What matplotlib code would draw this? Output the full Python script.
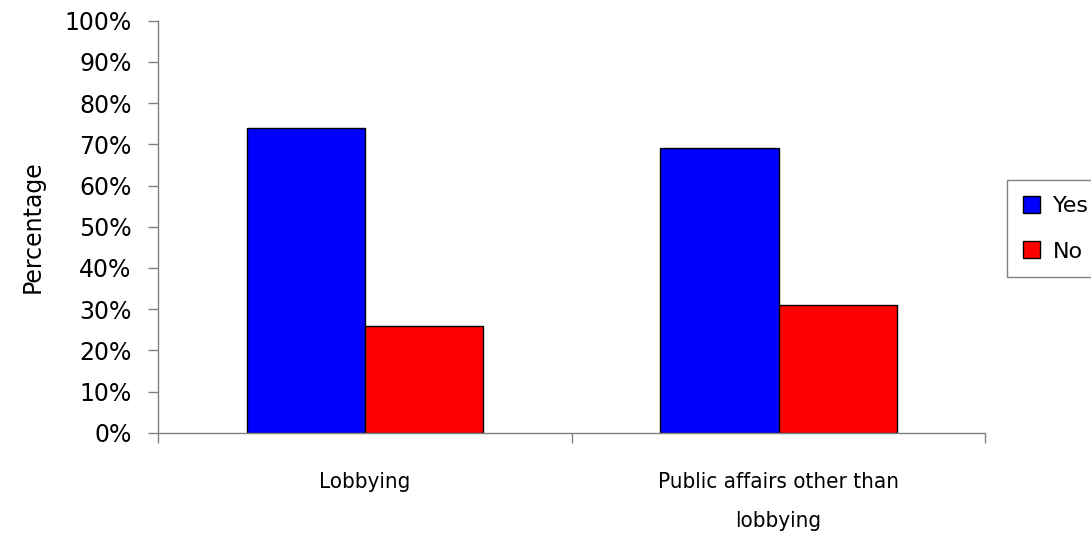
import matplotlib
matplotlib.use("Agg")
import matplotlib.pyplot as plt
import numpy as np

# dados do grafico
categories = ["Lobbying", "Public affairs other than\nlobbying"]
series_names = ["Yes", "No"]
yes_values = [74, 69]
no_values = [26, 31]
y_ticks = [0, 10, 20, 30, 40, 50, 60, 70, 80, 90, 100]

plt.rcParams['font.family'] = ['DejaVu Sans']

fig = plt.figure(figsize=(10.91, 5.37), dpi=100)
ax = fig.add_axes([158.3 / 1091, 1 - 432.7 / 537, (985.3 - 158.3) / 1091, (432.7 - 20.7) / 537])

x = np.arange(len(categories))
w = 1 / 3.5

b1 = ax.bar(x - w / 2, yes_values, w, color="#0000FF", edgecolor="black", linewidth=1, label=series_names[0])
b2 = ax.bar(x + w / 2, no_values, w, color="#FF0000", edgecolor="black", linewidth=1, label=series_names[1])

ax.set_xlim(-0.5, len(categories) - 0.5)
ax.set_ylim(0, 100)

# eixo y
ax.set_yticks(y_ticks)
ax.set_yticklabels([f"{v}%" for v in y_ticks], fontsize=17)
ax.tick_params(axis="y", length=7.2, width=1, color="#808080", pad=12)
ax.set_ylabel("Percentage", fontsize=17, labelpad=14)

# eixo x: rotulos no centro, marcas nas divisas
ax.set_xticks(x)
ax.set_xticklabels(categories, fontsize=16, linespacing=2.2, fontstretch="condensed")
ax.set_xticks(np.arange(len(categories) + 1) - 0.5, minor=True)
ax.tick_params(axis="x", which="major", length=0, pad=28)
ax.tick_params(axis="x", which="minor", length=7.2, width=1, color="#808080")

for s in ["top", "right"]:
    ax.spines[s].set_visible(False)
for s in ["left", "bottom"]:
    ax.spines[s].set_color("#808080")
    ax.spines[s].set_linewidth(1)

leg = fig.legend(handles=[b1, b2], labels=series_names, loc="upper left",
                 bbox_to_anchor=(1007 / 1091, 1 - 180.3 / 537), bbox_transform=fig.transFigure,
                 fontsize=16, handlelength=0.8, handleheight=0.8, handletextpad=0.55,
                 labelspacing=1.14, borderpad=0.7, borderaxespad=0, fancybox=False,
                 framealpha=1, edgecolor="#808080")
leg.get_frame().set_linewidth(1)

fig.savefig("out.png", dpi=100)
